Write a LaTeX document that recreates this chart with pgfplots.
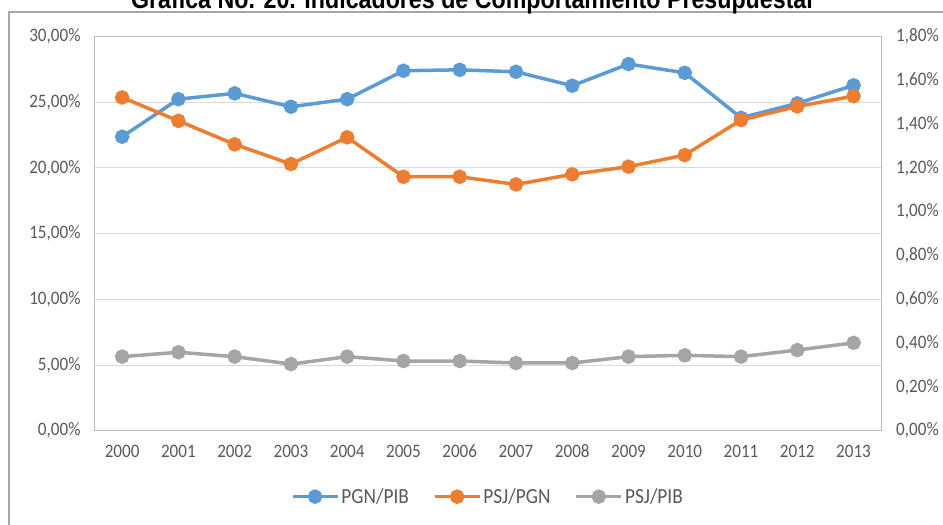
\documentclass[border=0pt]{standalone}
\usepackage{fontspec}
\setmainfont{Carlito}[FakeStretch=0.9]
\newfontfamily\titlefont{Liberation Sans}[FakeStretch=0.86]
\usepackage{pgfplots}
\pgfplotsset{compat=1.18}
\definecolor{cblue}{HTML}{5B9BD5}
\definecolor{corange}{HTML}{ED7D31}
\definecolor{cgray}{HTML}{A5A5A5}
\definecolor{txt}{HTML}{595959}
\definecolor{gridc}{HTML}{D9D9D9}
\definecolor{axc}{HTML}{BFBFBF}
\definecolor{framec}{HTML}{A6A6A6}

\pgfplotstableread{
x pgnpib psjpgn psjpib
0 22.36 1.521 0.338
1 25.22 1.414 0.358
2 25.66 1.307 0.338
3 24.64 1.217 0.304
4 25.22 1.339 0.338
5 27.38 1.159 0.318
6 27.45 1.159 0.318
7 27.30 1.124 0.309
8 26.24 1.170 0.309
9 27.89 1.205 0.338
10 27.22 1.258 0.344
11 23.80 1.418 0.338
12 24.90 1.480 0.368
13 26.27 1.527 0.401
}\datatable

\begin{document}
\begin{tikzpicture}
\pgfplotsset{
  common/.style={
    scale only axis, width=787.7pt, height=394.4pt,
    at={(94pt,94.3pt)}, anchor=south west,
    xmin=-0.5, xmax=13.5,
    tick label style={font=\fontsize{19}{21}\selectfont, text=txt},
    major tick length=0pt,
    axis line style={draw=axc, line width=0.8pt},
  },
  ser/.style={line width=3.5pt, mark=*, mark size=5.5pt, mark options={solid}},
}
\begin{axis}[common,
  ymin=0, ymax=30,
  ytick={0,5,10,15,20,25,30},
  yticklabels={{0,00\%},{5,00\%},{10,00\%},{15,00\%},{20,00\%},{25,00\%},{30,00\%}},
  yticklabel style={xshift=-10pt},
  xtick={0,...,13},
  xticklabels={2000,2001,2002,2003,2004,2005,2006,2007,2008,2009,2010,2011,2012,2013},
  xticklabel style={yshift=-11pt, text height=12pt, text depth=0pt},
  ymajorgrids, grid style={draw=gridc, line width=0.8pt},
  axis y line*=left,
]
\addplot[ser, color=cblue] table[x=x, y=pgnpib] {\datatable};
\end{axis}
\begin{axis}[common,
  ymin=0, ymax=1.8,
  ytick={0,0.2,0.4,0.6,0.8,1.0,1.2,1.4,1.6,1.8},
  yticklabels={{0,00\%},{0,20\%},{0,40\%},{0,60\%},{0,80\%},{1,00\%},{1,20\%},{1,40\%},{1,60\%},{1,80\%}},
  yticklabel style={xshift=11pt},
  axis y line*=right,
  xtick=\empty,
  legend columns=3,
  legend style={at={(0.5,-0.1672)}, anchor=center, draw=none, fill=none,
    font=\fontsize{21.5}{23}\selectfont, text=txt,
    /tikz/every odd column/.append style={column sep=0pt},
    /tikz/every even column/.append style={column sep=22pt}},
  legend image code/.code={\draw[#1, mark repeat=2, mark phase=2] plot coordinates {(0pt,0pt) (22.5pt,0pt) (45pt,0pt)};},
]
\addlegendimage{ser, color=cblue}
\addlegendentry{PGN/PIB}
\addplot[ser, color=corange] table[x=x, y=psjpgn] {\datatable};
\addlegendentry{PSJ/PGN}
\addplot[ser, color=cgray] table[x=x, y=psjpib] {\datatable};
\addlegendentry{PSJ/PIB}
\end{axis}
\draw[framec, line width=1.5pt] (9pt,-20pt) -- (9pt,513pt) -- (970pt,513pt);
\node[anchor=base, font=\titlefont\bfseries\fontsize{27}{30}\selectfont] at (472pt,516pt) {Gráfica No. 20. Indicadores de Comportamiento Presupuestal};
\pgfresetboundingbox
\path[use as bounding box] (0pt,0pt) rectangle (943pt,525pt);
\end{tikzpicture}
\end{document}
